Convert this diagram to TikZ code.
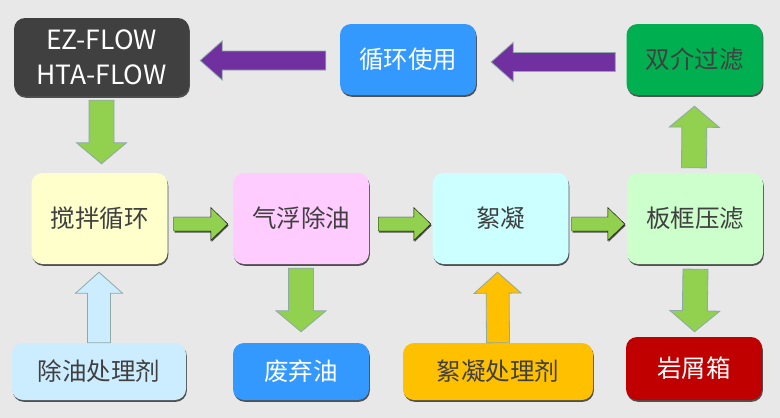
\documentclass[tikz,border=0pt]{standalone}
\usepackage{fontspec}
\setmainfont{Noto Sans CJK SC}
\usetikzlibrary{calc,shadows}

\definecolor{bgcol}{HTML}{E8E8E8}
\definecolor{txtgrey}{HTML}{404040}
\definecolor{darkbox}{HTML}{404040}
\definecolor{bluebox}{HTML}{3399FF}
\definecolor{greenbox}{HTML}{00B050}
\definecolor{yellowbox}{HTML}{FFFFCC}
\definecolor{pinkbox}{HTML}{FFCCFF}
\definecolor{cyanbox}{HTML}{CCFFFF}
\definecolor{mintbox}{HTML}{CCFFCC}
\definecolor{skybox}{HTML}{CCECFF}
\definecolor{orangebox}{HTML}{FFC000}
\definecolor{redbox}{HTML}{C00000}
\definecolor{arrgreen}{HTML}{92D050}
\definecolor{arrpurple}{HTML}{7030A0}
\definecolor{edgecol}{HTML}{8FA8A8}

\tikzset{
  box/.style={rounded corners=11pt, inner sep=0pt, align=center,
    minimum width=136pt, minimum height=91pt, text=txtgrey,
    font=\fontsize{24.5}{35}\selectfont,
    drop shadow={shadow xshift=0.8pt, shadow yshift=-1.8pt, fill=black!75, opacity=0.9}},
  topbox/.style={box, minimum height=71pt},
  lowbox/.style={box, minimum height=57pt},
  % block arrow: half shaft, half head, head length
  blockarrow/.style n args={3}{to path={
    ($(\tikztostart)!#1!90:(\tikztotarget)$) --
    ($($(\tikztotarget)!#3!(\tikztostart)$)!#1!90:(\tikztotarget)$) --
    ($($(\tikztotarget)!#3!(\tikztostart)$)!#2!90:(\tikztotarget)$) --
    (\tikztotarget) --
    ($($(\tikztotarget)!#3!(\tikztostart)$)!#2!-90:(\tikztotarget)$) --
    ($($(\tikztotarget)!#3!(\tikztostart)$)!#1!-90:(\tikztotarget)$) --
    ($(\tikztostart)!#1!-90:(\tikztotarget)$) -- cycle}},
  varrow/.style={draw=edgecol, line width=0.8pt, fill=arrgreen, blockarrow={12.5pt}{25pt}{21pt}},
  harrow/.style={fill=arrgreen, blockarrow={7pt}{16.5pt}{17pt},
    drop shadow={shadow xshift=0.8pt, shadow yshift=-1.5pt, fill=black!75, opacity=0.9}},
  parrow/.style={draw=edgecol, line width=0.8pt, fill=arrpurple, blockarrow={9.5pt}{19.5pt}{22pt}},
  uparrow/.style={draw=edgecol, line width=0.8pt, blockarrow={11.5pt}{23.5pt}{21pt}}
}

\begin{document}
\begin{tikzpicture}[x=1pt, y=-1pt]
  \fill[bgcol] (0,0) rectangle (780,418);

  % top row
  \node[topbox, fill=darkbox, text=white, minimum width=175pt, minimum height=78pt, font=\fontsize{26.5}{35}\selectfont] (ez) at (101.5,57) {EZ-FLOW\\HTA-FLOW};
  \node[topbox, fill=bluebox, text=white] (reuse) at (408,59.5) {循环使用};
  \node[topbox, fill=greenbox] (dual) at (694.5,59.5) {双介过滤};

  % middle row
  \node[box, fill=yellowbox] (mix) at (99.5,218.5) {搅拌循环};
  \node[box, fill=pinkbox] (float) at (301,218.5) {气浮除油};
  \node[box, fill=cyanbox] (floc) at (500.5,218.5) {絮凝};
  \node[box, fill=mintbox] (press) at (695,218.5) {板框压滤};

  % bottom row
  \node[lowbox, fill=skybox, minimum width=174pt] (oilag) at (99,371.5) {除油处理剂};
  \node[lowbox, fill=bluebox, text=white] (waste) at (301,371.5) {废弃油};
  \node[lowbox, fill=orangebox, minimum width=190pt] (flocag) at (498,371.5) {絮凝处理剂};
  \node[lowbox, fill=redbox, text=white, minimum height=63pt] (cut) at (694,368.5) {岩屑箱};

  % arrows
  \draw[parrow] ([xshift=-14pt,yshift=-1pt]reuse.west) to ([xshift=11pt,yshift=-3.5pt]ez.east);
  \draw[parrow] ([xshift=-11pt,yshift=-2.5pt]dual.west) to ([xshift=15pt,yshift=-2.5pt]reuse.east);
  \draw[varrow] ([yshift=-4pt]ez.south) to ([xshift=2pt,yshift=9pt]mix.north);
  \draw[harrow] ([xshift=6pt,yshift=-5.5pt]mix.east) to ([xshift=-5pt,yshift=-5.5pt]float.west);
  \draw[harrow] ([xshift=9pt,yshift=-5.5pt]float.east) to ([xshift=-1.5pt,yshift=-5.5pt]floc.west);
  \draw[harrow] ([xshift=3pt,yshift=-5.5pt]floc.east) to ([xshift=-2pt,yshift=-5.5pt]press.west);
  \draw[varrow] ([xshift=-1pt,yshift=5pt]press.north) to ([yshift=-11pt]dual.south);
  \draw[varrow] ([yshift=-4pt]float.south) to ([yshift=11pt]waste.north);
  \draw[varrow] ([xshift=0.5pt,yshift=-5pt]press.south) to ([xshift=0.5pt,yshift=5pt]cut.north);
  \draw[uparrow, fill=skybox] (oilag.north) to ([xshift=-0.5pt,yshift=-8pt]mix.south);
  \draw[uparrow, fill=orangebox] (flocag.north) to ([xshift=-3pt,yshift=-8pt]floc.south);
\end{tikzpicture}
\end{document}
